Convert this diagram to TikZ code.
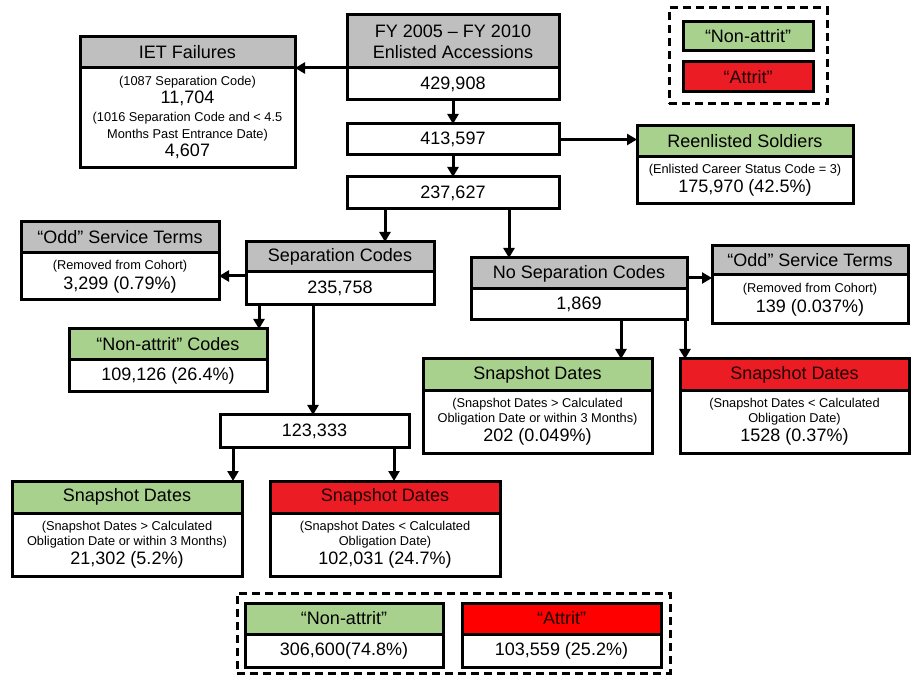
\documentclass[tikz,border=0pt]{standalone}
\usepackage{fontspec}
\setmainfont{Liberation Sans}
\usetikzlibrary{arrows.meta,calc}
\definecolor{cgray}{HTML}{BFBFBF}
\definecolor{cgreen}{HTML}{A9D18E}
\definecolor{cred}{HTML}{EC1C24}
\definecolor{cbred}{HTML}{FF0000}
\definecolor{credtxt}{HTML}{200000}
\newcommand{\bigf}{\fontsize{18}{18}\selectfont}
\newcommand{\smf}{\fontsize{12.8}{15}\selectfont\lineskiplimit=-100pt\relax}
\tikzset{
  box/.style={draw=black, line width=3pt, inner sep=0pt, outer sep=0pt, anchor=north west, align=center},
  hdr/.style={box, font=\bigf},
  grayhdr/.style={hdr, fill=cgray},
  greenhdr/.style={hdr, fill=cgreen},
  redhdr/.style={hdr, fill=cred, text=credtxt},
  brighthdr/.style={hdr, fill=cbred, text=credtxt},
  body/.style={box, fill=white, font=\smf},
  numbody/.style={box, fill=white, font=\bigf},
  arr/.style={line width=3pt, -{Triangle[length=10pt,width=11pt]}},
  dashbox/.style={draw=black, line width=3pt, dash pattern=on 8pt off 5pt, inner sep=0pt, outer sep=0pt, anchor=north west},
}
\begin{document}
\begin{tikzpicture}[x=1pt,y=-1pt]
\useasboundingbox (0,0) rectangle (911,676);
% legend
\node[dashbox, minimum width=158pt, minimum height=96pt] (leg) at (669,8) {};
\node[greenhdr, minimum width=130pt, minimum height=29pt] (leg-n) at (683,22) {“Non-attrit”};
\node[redhdr, minimum width=130pt, minimum height=30pt] (leg-a) at (683,62) {“Attrit”};
% accessions
\node[grayhdr, minimum width=212pt, minimum height=53pt, font=\fontsize{18}{21}\selectfont] (acc-h) at (347,15) {FY 2005 – FY 2010\\Enlisted Accessions};
\node[numbody, minimum width=212pt, minimum height=32pt] (acc-b) at (347,68) {429,908};
% IET
\node[grayhdr, minimum width=215pt, minimum height=31pt] (iet-h) at (80,37) {IET Failures};
\node[body, minimum width=215pt, minimum height=100pt] (iet-b) at (80,68) {(1087 Separation Code)\\[3pt]{\bigf 11,704}\\[3pt](1016 Separation Code and < 4.5\\[2pt]Months Past Entrance Date)\\[3pt]{\bigf 4,607}};
% chain
\node[numbody, minimum width=212pt, minimum height=31pt] (b413) at (347,124) {413,597};
\node[numbody, minimum width=212pt, minimum height=32pt] (b237) at (347,177) {237,627};
% reenlisted
\node[greenhdr, minimum width=216pt, minimum height=31pt] (reen-h) at (637,126) {Reenlisted Soldiers};
\node[body, minimum width=216pt, minimum height=47pt] (reen-b) at (637,157) {(Enlisted Career Status Code = 3)\\[4pt]{\bigf 175,970 (42.5\%)}};
% separation codes
\node[grayhdr, minimum width=188pt, minimum height=30pt] (sepc-h) at (246,242) {Separation Codes};
\node[numbody, minimum width=188pt, minimum height=33pt] (sepc-b) at (246,272) {235,758};
\node[grayhdr, minimum width=198pt, minimum height=31pt] (oddl-h) at (21,222) {“Odd” Service Terms};
\node[body, minimum width=198pt, minimum height=47pt] (oddl-b) at (21,253) {(Removed from Cohort)\\[5pt]{\bigf 3,299 (0.79\%)}};
\node[greenhdr, minimum width=198pt, minimum height=31pt] (nac-h) at (69,329) {“Non-attrit” Codes};
\node[numbody, minimum width=198pt, minimum height=32pt] (nac-b) at (69,360) {109,126 (26.4\%)};
\node[numbody, minimum width=189pt, minimum height=32pt] (b123) at (220,415) {123,333};
\node[greenhdr, minimum width=230pt, minimum height=32pt] (sgl-h) at (12,481) {Snapshot Dates};
\node[body, minimum width=230pt, minimum height=63pt] (sgl-b) at (12,513) {(Snapshot Dates > Calculated\\Obligation Date or within 3 Months)\\[4pt]{\bigf 21,302 (5.2\%)}};
\node[redhdr, minimum width=230pt, minimum height=32pt] (srl-h) at (270,481) {Snapshot Dates};
\node[body, minimum width=230pt, minimum height=63pt] (srl-b) at (270,513) {(Snapshot Dates < Calculated\\Obligation Date)\\[4pt]{\bigf 102,031 (24.7\%)}};
% no separation codes
\node[grayhdr, minimum width=216pt, minimum height=31pt] (nosep-h) at (471,258) {No Separation Codes};
\node[numbody, minimum width=216pt, minimum height=31pt] (nosep-b) at (471,289) {1,869};
\node[grayhdr, minimum width=196pt, minimum height=29pt] (oddr-h) at (712,246) {“Odd” Service Terms};
\node[body, minimum width=196pt, minimum height=49pt] (oddr-b) at (712,275) {(Removed from Cohort)\\[5pt]{\bigf 139 (0.037\%)}};
\node[greenhdr, minimum width=229pt, minimum height=32pt] (sgr-h) at (423,359) {Snapshot Dates};
\node[body, minimum width=229pt, minimum height=62pt] (sgr-b) at (423,391) {(Snapshot Dates > Calculated\\Obligation Date or within 3 Months)\\[4pt]{\bigf 202 (0.049\%)}};
\node[redhdr, minimum width=229pt, minimum height=32pt] (srr-h) at (680,359) {Snapshot Dates};
\node[body, minimum width=229pt, minimum height=62pt] (srr-b) at (680,391) {(Snapshot Dates < Calculated\\Obligation Date)\\[4pt]{\bigf 1528 (0.37\%)}};
% totals
\node[dashbox, minimum width=433pt, minimum height=80pt] (tot) at (237,593) {};
\node[greenhdr, minimum width=198pt, minimum height=31pt] (bnon-h) at (245,603) {“Non-attrit”};
\node[numbody, minimum width=198pt, minimum height=33pt] (bnon-b) at (245,634) {306,600(74.8\%)};
\node[brighthdr, minimum width=199pt, minimum height=31pt] (batt-h) at (462,603) {“Attrit”};
\node[numbody, minimum width=199pt, minimum height=33pt] (batt-b) at (462,634) {103,559 (25.2\%)};
% connectors
\draw[arr] (acc-h.south west) -- (iet-h.south east);
\draw[arr] (acc-b.south) -- (b413.north);
\draw[arr] (b413.south) -- (b237.north);
\draw[arr] (b413.east) -- (b413.east -| reen-h.west);
\coordinate (s1) at ([xshift=-68pt]b237.south);
\draw[arr] (s1) -- (s1 |- sepc-h.north);
\coordinate (s2) at ([xshift=56pt]b237.south);
\draw[arr] (s2) -- (s2 |- nosep-h.north);
\coordinate (s3) at ([yshift=-4pt]sepc-h.south west);
\draw[arr] (s3) -- (s3 -| oddl-b.east);
\coordinate (s4) at ([xshift=13pt]sepc-b.south west);
\draw[arr] (s4) -- (s4 |- nac-h.north);
\coordinate (s5) at ([xshift=67pt]sepc-b.south west);
\draw[arr] (s5) -- (s5 |- b123.north);
\coordinate (s6) at ([xshift=13pt]b123.south west);
\draw[arr] (s6) -- (s6 |- sgl-h.north);
\coordinate (s7) at ([xshift=-15pt]b123.south east);
\draw[arr] (s7) -- (s7 |- srl-h.north);
\coordinate (s8) at ([yshift=11pt]nosep-h.south east);
\draw[arr] (s8) -- (s8 -| oddr-b.west);
\coordinate (s9) at ([xshift=-66pt]nosep-b.south east);
\draw[arr] (s9) -- (s9 |- sgr-h.north);
\coordinate (s10) at ([xshift=-2pt]nosep-b.south east);
\draw[arr] (s10) -- (s10 |- srr-h.north);
\end{tikzpicture}
\end{document}
